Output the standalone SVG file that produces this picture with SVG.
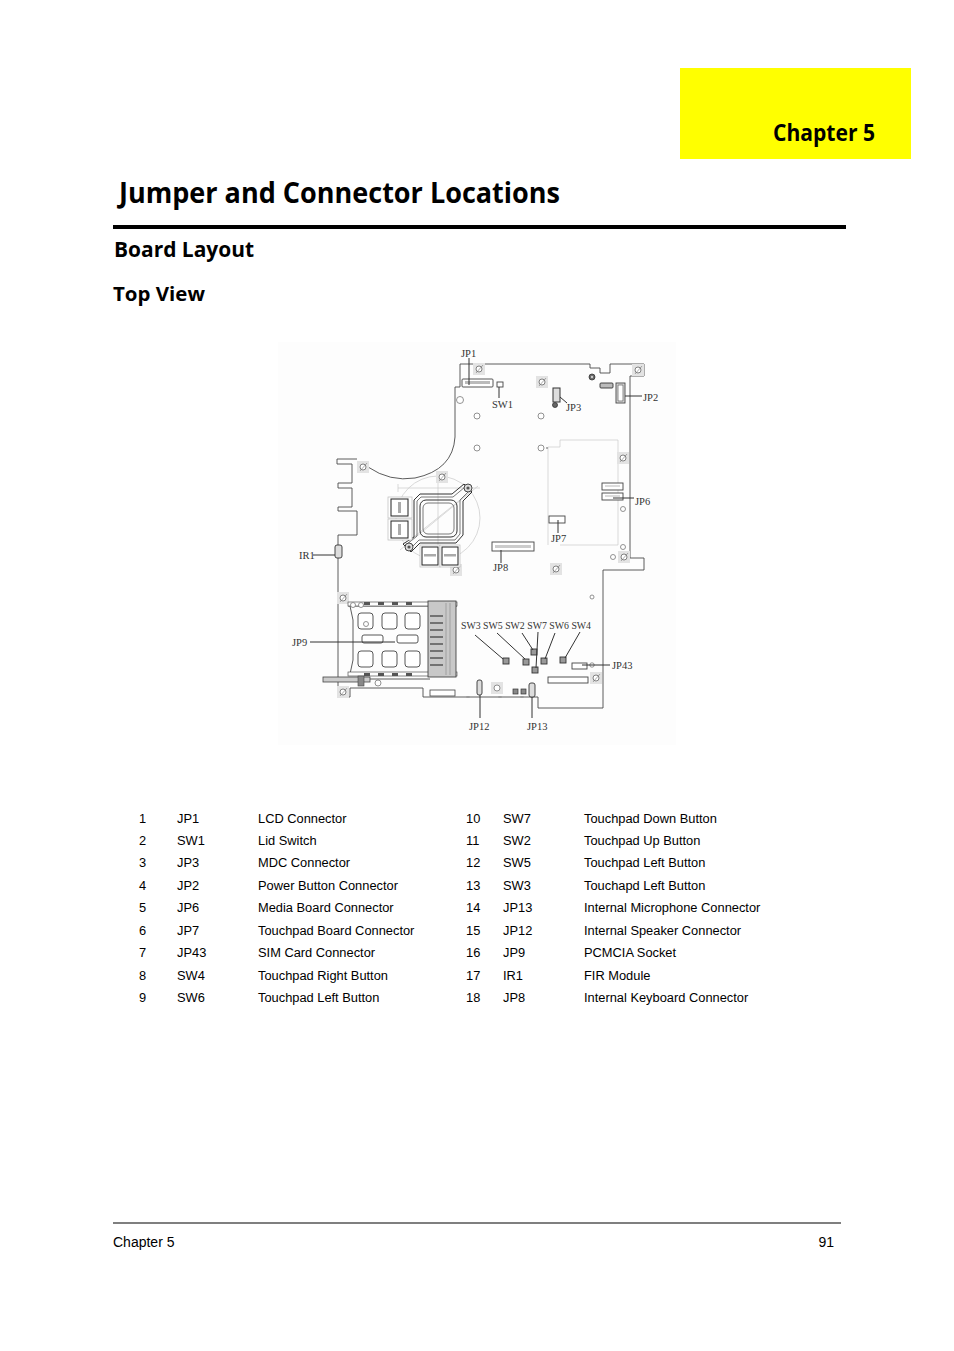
<svg xmlns="http://www.w3.org/2000/svg" width="954" height="1351" viewBox="0 0 954 1351">
<style>
.h{font-family:"Open Sans","Noto Sans","DejaVu Sans",sans-serif;font-weight:bold;fill:#000}
.t{font-family:"Liberation Sans",Arial,sans-serif;font-size:12.85px;fill:#000}
.f{font-family:"Liberation Sans",Arial,sans-serif;font-size:14px;fill:#000}
.lb{font-family:"Liberation Serif","Times New Roman",serif;font-size:10.5px;fill:#333}
.ol{fill:none;stroke:#4a4a4a;stroke-width:0.9}
.fa{fill:none;stroke:#c8c8c8;stroke-width:0.7}
.ld{fill:none;stroke:#333;stroke-width:1}
.cp{fill:#fff;stroke:#444;stroke-width:0.9}
.hole{fill:#fff;stroke:#777;stroke-width:0.8}
.sw{fill:#999;stroke:#333;stroke-width:0.9}
</style>
<defs>
<symbol id="mh" viewBox="0 0 12 12" overflow="visible">
<rect x="0" y="0" width="12" height="12" fill="#e3e3e3"/>
<circle cx="6" cy="6" r="3" fill="#fff" stroke="#666" stroke-width="0.8"/>
<line x1="3" y1="10" x2="10" y2="2" stroke="#777" stroke-width="0.6"/>
</symbol>
</defs>
<rect width="954" height="1351" fill="#fff"/>

<g id="header">
<rect x="680" y="68" width="231" height="91" fill="#ffff00"/>
<text class="h" x="773" y="141" font-size="23" textLength="102" lengthAdjust="spacingAndGlyphs">Chapter 5</text>
<text class="h" x="119" y="203" font-size="29" textLength="441" lengthAdjust="spacingAndGlyphs">Jumper and Connector Locations</text>
<rect x="113" y="225" width="733" height="4" fill="#000"/>
<text class="h" x="114" y="257" font-size="22" textLength="140" lengthAdjust="spacingAndGlyphs">Board Layout</text>
<text class="h" x="113" y="301" font-size="19" textLength="92" lengthAdjust="spacingAndGlyphs">Top View</text>
</g>

<g id="board">
<rect x="278" y="342" width="398" height="403" fill="#fdfdfd"/>
<path class="ol" d="M357,459 H337 V464 H352 V483 H338 V488 H352 V507 H338 V511 H357 V535 H338 V697 H350 V688 H423 V697 H538 V708 H603 V570 H644 V558 H630 V376 H644 V364 H610 V373 H600 V368 H590 V364 H460 V387 H455 V437 Q453,470 415,478 Q390,482 368,467"/>
<path class="fa" d="M548,447 H560 V440 H618 V545 H560 M548,447 V545"/>
<circle class="fa" cx="438" cy="518" r="42"/>
<path class="fa" d="M398,488 H480 M398,484 V492 M400,550 L478,486 M410,540 L470,492 M438,476 V560"/>

<g id="mounts">
<use href="#mh" x="473" y="363" width="12" height="12"/>
<use href="#mh" x="536" y="376" width="12" height="12"/>
<use href="#mh" x="632" y="364" width="12" height="12"/>
<use href="#mh" x="617" y="452" width="12" height="12"/>
<use href="#mh" x="357" y="461" width="12" height="12"/>
<use href="#mh" x="436" y="471" width="12" height="12"/>
<use href="#mh" x="450" y="564" width="12" height="12"/>
<use href="#mh" x="550" y="563" width="12" height="12"/>
<use href="#mh" x="618" y="551" width="12" height="12"/>
<use href="#mh" x="337" y="592" width="12" height="12"/>
<use href="#mh" x="337" y="686" width="12" height="12"/>
<use href="#mh" x="590" y="672" width="12" height="12"/>
<rect x="491" y="682" width="12" height="12" fill="#e3e3e3"/>
<circle cx="497" cy="688" r="3" class="hole"/>
</g>

<g id="holes">
<circle class="hole" cx="460" cy="400" r="3.5"/>
<circle class="hole" cx="477" cy="416" r="3"/>
<circle class="hole" cx="541" cy="416" r="3"/>
<circle class="hole" cx="477" cy="448" r="3"/>
<circle class="hole" cx="541" cy="448" r="3"/>
<circle cx="547" cy="448" r="0.8" fill="#555"/>
<circle cx="592" cy="377" r="3" fill="#666" stroke="#333" stroke-width="0.8"/>
<circle cx="592" cy="377" r="1.2" fill="#ccc"/>
<circle class="hole" cx="623" cy="509" r="2.5"/>
<circle class="hole" cx="623" cy="547" r="2.5"/>
<circle class="hole" cx="613" cy="557" r="2.5"/>
<circle class="hole" cx="592" cy="597" r="2"/>
<circle class="hole" cx="592" cy="665" r="2.2"/>
</g>

<g id="heatsink">
<path fill="none" stroke="#333" stroke-width="1" d="M414,537 V500 L420,494 H452 L464,484 L472,492 L463,501 V535 L456,543 H420 L411,552 L403,544 Z"/>
<path fill="none" stroke="#555" stroke-width="0.8" d="M417,536 V501 L421,497 H453 L465,487 L469,491 L460,500 V534 L455,540 H419 L411,548 L407,544 Z"/>
<rect x="420" y="500" width="37" height="37" rx="6" fill="none" stroke="#333" stroke-width="1"/>
<rect x="423" y="503" width="31" height="31" rx="5" fill="none" stroke="#555" stroke-width="0.8"/>
<circle cx="468" cy="488" r="4" fill="#ddd" stroke="#333" stroke-width="0.9"/>
<circle cx="468" cy="488" r="1.6" fill="#555"/>
<circle cx="409" cy="547" r="4" fill="#ddd" stroke="#333" stroke-width="0.9"/>
<circle cx="409" cy="547" r="1.6" fill="#555"/>
</g>

<g id="memory">
<rect x="388" y="497" width="24" height="21" fill="#fff" stroke="#bbb" stroke-width="0.7"/>
<rect x="391" y="499" width="17" height="17" fill="#fff" stroke="#222" stroke-width="1"/>
<rect x="398" y="502" width="3" height="11" fill="#aaa"/>
<rect x="388" y="519" width="24" height="21" fill="#fff" stroke="#bbb" stroke-width="0.7"/>
<rect x="391" y="521" width="17" height="17" fill="#fff" stroke="#222" stroke-width="1"/>
<rect x="398" y="524" width="3" height="11" fill="#aaa"/>
<rect x="420" y="545" width="20" height="22" fill="#fff" stroke="#bbb" stroke-width="0.7"/>
<rect x="422" y="547" width="16" height="18" fill="#fff" stroke="#222" stroke-width="1"/>
<rect x="424" y="554" width="12" height="2.5" fill="#aaa"/>
<rect x="440" y="545" width="20" height="22" fill="#fff" stroke="#bbb" stroke-width="0.7"/>
<rect x="442" y="547" width="16" height="18" fill="#fff" stroke="#222" stroke-width="1"/>
<rect x="444" y="554" width="12" height="2.5" fill="#aaa"/>
</g>

<g id="pcmcia">
<path class="ol" d="M348,606 H457 M350,606 L353,620 V660 L350,674 M348,674 H457"/>
<rect x="348" y="602" width="109" height="4" fill="#fff" stroke="#555" stroke-width="0.7"/>
<rect x="348" y="672" width="109" height="4" fill="#fff" stroke="#555" stroke-width="0.7"/>
<rect x="364" y="602" width="6" height="3" fill="#555"/>
<rect x="378" y="602" width="6" height="3" fill="#555"/>
<rect x="392" y="602" width="6" height="3" fill="#555"/>
<rect x="406" y="602" width="6" height="3" fill="#555"/>
<rect x="364" y="673" width="6" height="3" fill="#555"/>
<rect x="378" y="673" width="6" height="3" fill="#555"/>
<rect x="392" y="673" width="6" height="3" fill="#555"/>
<rect x="406" y="673" width="6" height="3" fill="#555"/>
<circle cx="353" cy="605" r="2.5" class="hole"/>
<circle cx="361" cy="605" r="2.5" class="hole"/>
<rect x="358" y="613" width="15" height="16" rx="3" class="cp"/>
<rect x="382" y="613" width="15" height="16" rx="3" class="cp"/>
<rect x="405" y="613" width="15" height="16" rx="3" class="cp"/>
<circle cx="366" cy="624" r="2.5" class="hole"/>
<rect x="362" y="635" width="21" height="8" rx="2" class="cp"/>
<rect x="397" y="635" width="21" height="8" rx="2" class="cp"/>
<rect x="358" y="651" width="15" height="16" rx="3" class="cp"/>
<rect x="382" y="651" width="15" height="16" rx="3" class="cp"/>
<rect x="405" y="651" width="15" height="16" rx="3" class="cp"/>
<rect x="428" y="601" width="28" height="76" fill="#c8c8c8" stroke="#444" stroke-width="0.9"/>
<path fill="none" stroke="#555" stroke-width="1.3" d="M430,616 H443 M430,623 H443 M430,630 H443 M430,637 H443 M430,644 H443 M430,651 H443 M430,658 H443 M430,665 H443"/>
<path fill="none" stroke="#888" stroke-width="0.6" d="M446,603 V675 M450,603 V675"/>
<rect x="323" y="677" width="47" height="5" fill="#ccc" stroke="#444" stroke-width="0.8"/>
<rect x="358" y="676" width="6" height="10" fill="#888" stroke="#444" stroke-width="0.6"/>
<circle cx="378" cy="683" r="3" class="hole"/>
<path class="ol" d="M370,679 H430"/>
<rect x="430" y="690" width="25" height="6" fill="#fff" stroke="#444" stroke-width="0.8"/>
</g>

<g id="JP1"><rect x="462" y="379" width="31" height="8" rx="1" class="cp"/><rect x="465" y="381" width="25" height="3" fill="#bbb"/><text class="lb" x="461" y="357">JP1</text></g>
<g id="SW1"><rect x="497" y="382" width="6" height="5" class="cp"/><text class="lb" x="492" y="408">SW1</text></g>
<g id="JP3"><rect x="553" y="388" width="7" height="14" fill="#ddd" stroke="#333" stroke-width="1"/><circle cx="555" cy="405" r="2.5" fill="#666" stroke="#333" stroke-width="0.8"/><text class="lb" x="566" y="411">JP3</text></g>
<g id="conn-top"><rect x="600" y="383" width="13" height="5" rx="1" fill="#bbb" stroke="#333" stroke-width="0.9"/></g>
<g id="JP2"><rect x="616" y="383" width="9" height="20" fill="#ddd" stroke="#444" stroke-width="0.9"/><rect x="618" y="385" width="5" height="16" fill="#fff" stroke="#444" stroke-width="0.6"/><text class="lb" x="643" y="401">JP2</text></g>
<g id="JP6"><rect x="602" y="483" width="21" height="7" class="cp"/><rect x="602" y="493" width="21" height="7" class="cp"/><path fill="none" stroke="#888" stroke-width="0.6" d="M605,486 H620 M605,496 H620"/><text class="lb" x="635" y="505">JP6</text></g>
<g id="JP7"><rect x="549" y="516" width="16" height="7" class="cp"/><text class="lb" x="551" y="542">JP7</text></g>
<g id="JP8"><rect x="492" y="542" width="42" height="9" class="cp"/><rect x="495" y="545" width="36" height="3" fill="#ccc"/><text class="lb" x="493" y="571">JP8</text></g>
<g id="IR1"><rect x="335" y="545" width="7" height="13" rx="2" fill="#ddd" stroke="#333" stroke-width="0.9"/><text class="lb" x="299" y="559">IR1</text></g>
<g id="JP9"><text class="lb" x="292" y="646">JP9</text></g>
<g id="switches">
<rect x="503" y="658" width="6" height="6" class="sw"/>
<rect x="523" y="659" width="6" height="6" class="sw"/>
<rect x="531" y="649" width="6" height="6" class="sw"/>
<rect x="532" y="667" width="6" height="6" class="sw"/>
<rect x="541" y="658" width="6" height="6" class="sw"/>
<rect x="560" y="657" width="6" height="6" class="sw"/>
<text class="lb" x="461" y="629" textLength="130" lengthAdjust="spacingAndGlyphs">SW3 SW5 SW2 SW7 SW6 SW4</text>
</g>
<g id="JP43"><rect x="572" y="663" width="15" height="6" class="cp"/><text class="lb" x="612" y="669">JP43</text></g>
<g id="conn-bottom"><rect x="548" y="677" width="40" height="6" class="cp"/></g>
<g id="JP12"><rect x="477" y="680" width="5" height="15" rx="2" fill="#ddd" stroke="#333" stroke-width="0.9"/><text class="lb" x="469" y="730">JP12</text></g>
<g id="JP13"><rect x="529" y="683" width="6" height="14" rx="2" fill="#ddd" stroke="#333" stroke-width="0.9"/><text class="lb" x="527" y="730">JP13</text></g>
<g id="smalls">
<rect x="513" y="689" width="5" height="5" fill="#888" stroke="#333" stroke-width="0.7"/>
<rect x="521" y="689" width="5" height="5" fill="#888" stroke="#333" stroke-width="0.7"/>
<ellipse cx="468" cy="697" rx="2" ry="1" fill="#999"/>
<ellipse cx="500" cy="697" rx="2" ry="1" fill="#999"/>
<ellipse cx="522" cy="697" rx="2" ry="1" fill="#999"/>
</g>
</g>

<g id="connectors">
<path class="ld" d="M469,358 V385"/>
<path class="ld" d="M499,387 V398"/>
<path class="ld" d="M560,397 L567,403"/>
<path class="ld" d="M625,396 H642"/>
<path class="ld" d="M613,498 H634"/>
<path class="ld" d="M558,520 V533"/>
<path class="ld" d="M501,550 V563"/>
<path class="ld" d="M313,555 H335"/>
<path class="ld" d="M310,642 H395"/>
<path class="ld" d="M475,635 L503,659"/>
<path class="ld" d="M497,633 L525,659"/>
<path class="ld" d="M522,633 L533,650"/>
<path class="ld" d="M538,632 L536,668"/>
<path class="ld" d="M555,633 L545,659"/>
<path class="ld" d="M580,632 L565,658"/>
<path class="ld" d="M582,665 H610"/>
<path class="ld" d="M480,695 V718"/>
<path class="ld" d="M532,697 V718"/>
</g>

<g id="table">
<g class="t">
<text x="139" y="823">1</text><text x="177" y="823">JP1</text><text x="258" y="823">LCD Connector</text>
<text x="139" y="845">2</text><text x="177" y="845">SW1</text><text x="258" y="845">Lid Switch</text>
<text x="139" y="867">3</text><text x="177" y="867">JP3</text><text x="258" y="867">MDC Connector</text>
<text x="139" y="890">4</text><text x="177" y="890">JP2</text><text x="258" y="890">Power Button Connector</text>
<text x="139" y="912">5</text><text x="177" y="912">JP6</text><text x="258" y="912">Media Board Connector</text>
<text x="139" y="935">6</text><text x="177" y="935">JP7</text><text x="258" y="935">Touchpad Board Connector</text>
<text x="139" y="957">7</text><text x="177" y="957">JP43</text><text x="258" y="957">SIM Card Connector</text>
<text x="139" y="980">8</text><text x="177" y="980">SW4</text><text x="258" y="980">Touchpad Right Button</text>
<text x="139" y="1002">9</text><text x="177" y="1002">SW6</text><text x="258" y="1002">Touchpad Left Button</text>
<text x="466" y="823">10</text><text x="503" y="823">SW7</text><text x="584" y="823">Touchpad Down Button</text>
<text x="466" y="845">11</text><text x="503" y="845">SW2</text><text x="584" y="845">Touchpad Up Button</text>
<text x="466" y="867">12</text><text x="503" y="867">SW5</text><text x="584" y="867">Touchpad Left Button</text>
<text x="466" y="890">13</text><text x="503" y="890">SW3</text><text x="584" y="890">Touchapd Left Button</text>
<text x="466" y="912">14</text><text x="503" y="912">JP13</text><text x="584" y="912">Internal Microphone Connector</text>
<text x="466" y="935">15</text><text x="503" y="935">JP12</text><text x="584" y="935">Internal Speaker Connector</text>
<text x="466" y="957">16</text><text x="503" y="957">JP9</text><text x="584" y="957">PCMCIA Socket</text>
<text x="466" y="980">17</text><text x="503" y="980">IR1</text><text x="584" y="980">FIR Module</text>
<text x="466" y="1002">18</text><text x="503" y="1002">JP8</text><text x="584" y="1002">Internal Keyboard Connector</text>
</g>
</g>

<g id="footer">
<rect x="113" y="1222.5" width="728" height="1" fill="#000"/>
<text class="f" x="113" y="1247">Chapter 5</text>
<text class="f" x="834" y="1247" text-anchor="end">91</text>
</g>
</svg>
